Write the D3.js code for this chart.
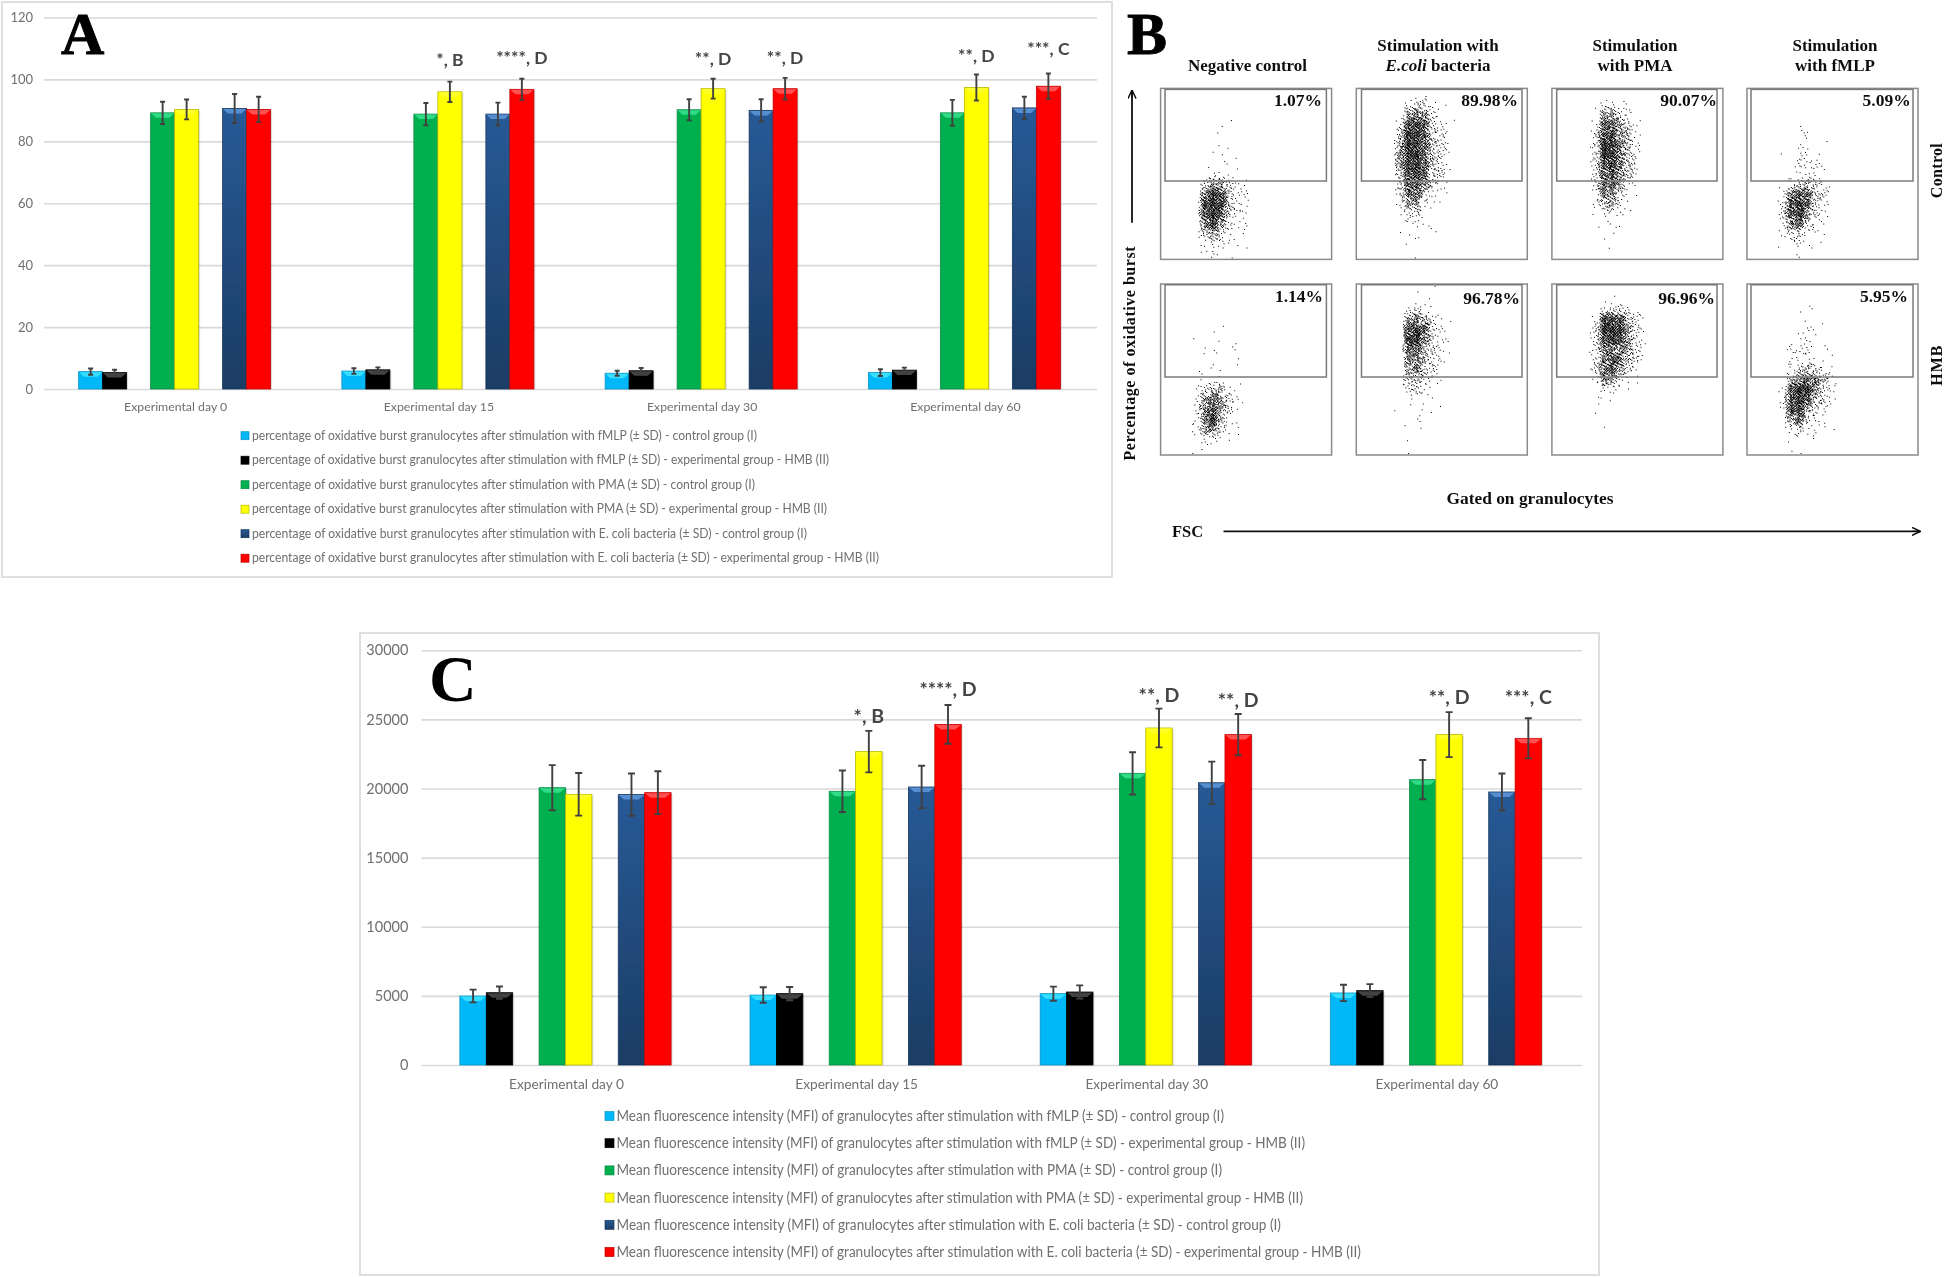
<!DOCTYPE html>
<html>
<head>
<meta charset="utf-8">
<script src="https://cdn.jsdelivr.net/npm/d3@7"></script>
<style>
html,body{margin:0;padding:0;background:#fff;}
svg{display:block;}
</style>
</head>
<body>
<svg id="chart" width="1946" height="1277"></svg>
<script>
/* ---------- DATA ---------- */
const days = ["Experimental day 0","Experimental day 15","Experimental day 30","Experimental day 60"];
const seriesKeys = ["fmlpControl","fmlpHmb","pmaControl","pmaHmb","ecoliControl","ecoliHmb"];

/* Panel A: percentage of oxidative burst */
const burstFmlpControl  = [5.6,5.8,5.1,5.3];
const burstFmlpHmb      = [5.3,6.2,5.9,6.1];
const burstPmaControl   = [89.2,88.8,90.2,89.2];
const burstPmaHmb       = [90.3,96.0,97.0,97.4];
const burstEcoliControl = [90.6,88.8,90.0,90.8];
const burstEcoliHmb     = [90.3,96.8,97.0,97.8];
const burstSdFmlpControl  = [1.0,0.9,0.8,1.1];
const burstSdFmlpHmb      = [0.9,0.8,0.9,0.8];
const burstSdPmaControl   = [3.6,3.6,3.4,4.2];
const burstSdPmaHmb       = [3.2,3.3,3.2,4.2];
const burstSdEcoliControl = [4.7,3.7,3.6,3.6];
const burstSdEcoliHmb     = [4.1,3.4,3.5,4.1];
const burstTicks = [0,20,40,60,80,100,120];
const burstLegend = [
 "percentage of oxidative burst granulocytes after stimulation with fMLP (± SD) - control group (I)",
 "percentage of oxidative burst granulocytes after stimulation with fMLP (± SD) - experimental group - HMB (II)",
 "percentage of oxidative burst granulocytes after stimulation with PMA (± SD) - control group (I)",
 "percentage of oxidative burst granulocytes after stimulation with PMA (± SD) - experimental group - HMB (II)",
 "percentage of oxidative burst granulocytes after stimulation with E. coli bacteria (± SD) - control group (I)",
 "percentage of oxidative burst granulocytes after stimulation with E. coli bacteria (± SD) - experimental group - HMB (II)"];
const burstSigLabels = ["*, B","****, D","**, D","**, D","**, D","***, C"];
const burstSigDay    = [1,1,2,2,3,3];
const burstSigSeries = [3,5,3,5,3,5];
const burstSigLevel  = [104.3,105,104.7,105,105.7,107.9];

/* Panel C: mean fluorescence intensity */
const mfiFmlpControl  = [4990,5060,5160,5210];
const mfiFmlpHmb      = [5230,5160,5280,5380];
const mfiPmaControl   = [20060,19800,21100,20640];
const mfiPmaHmb       = [19580,22670,24380,23900];
const mfiEcoliControl = [19560,20110,20420,19750];
const mfiEcoliHmb     = [19700,24640,23900,23630];
const mfiSdFmlpControl  = [460,560,510,590];
const mfiSdFmlpHmb      = [450,480,480,470];
const mfiSdPmaControl   = [1630,1500,1530,1420];
const mfiSdPmaHmb       = [1540,1500,1400,1630];
const mfiSdEcoliControl = [1530,1540,1530,1340];
const mfiSdEcoliHmb     = [1550,1400,1490,1450];
const mfiTicks = [0,5000,10000,15000,20000,25000,30000];
const mfiLegend = [
 "Mean fluorescence intensity (MFI) of granulocytes after stimulation with fMLP (± SD) - control group (I)",
 "Mean fluorescence intensity (MFI) of granulocytes after stimulation with fMLP (± SD) - experimental group - HMB (II)",
 "Mean fluorescence intensity (MFI) of granulocytes after stimulation with PMA (± SD) - control group (I)",
 "Mean fluorescence intensity (MFI) of granulocytes after stimulation with PMA (± SD) - experimental group - HMB (II)",
 "Mean fluorescence intensity (MFI) of granulocytes after stimulation with E. coli bacteria (± SD) - control group (I)",
 "Mean fluorescence intensity (MFI) of granulocytes after stimulation with E. coli bacteria (± SD) - experimental group - HMB (II)"];
const mfiSigLabels = ["*, B","****, D","**, D","**, D","**, D","***, C"];
const mfiSigDay    = [1,1,2,2,3,3];
const mfiSigSeries = [3,5,3,5,3,5];
const mfiSigLevel  = [24740,26695,26282,25920,26115,26115];

/* Panel B: flow-cytometry plots. The individual events cannot be read one by one,
   so each plot keeps the event density:
   17 rows x 12 columns, digit 0 (empty) to 9 (solid). Nothing here is random. */
const densityNegControl = ["000000000000","000000000000","000000000000","000000011000","000000010000","000000011000","000000110000","000000111100","000000211110","000003553210","000006984220","000008994220","000008983210","000006952220","000004532110","000002221110","000001211000"];
const densityEcoliControl = ["000000001000","000000233101","000000565311","000002897321","000004997331","000005997431","000006997431","000006997431","000004897331","000003886321","000003773211","000002552110","000001331000","000000121100","000001110100","000000110000","000000100000"];
const densityPmaControl = ["000000000000","000000221100","000001553200","000002775310","000003885420","000003996420","000003996420","000003896420","000003786410","000003775210","000002663110","000002452100","000001221100","000001111000","000000111000","000000010000","000000000000"];
const densityFmlpControl = ["000000000000","000000000000","000000000000","000000100000","000000120000","000000110100","000010221100","000001222100","000001222100","000002343200","000026874300","000038973200","000038953200","000026732100","000023321100","000011211100","000001100000"];
const densityNegHmb = ["000000000000","000000000000","000000000000","000000000000","000000110000","000010010100","000001111100","000001100100","000011110100","000011110000","000013442100","000025753200","000026853100","000026942100","000025631100","000012211100","000011000000"];
const densityEcoliHmb = ["000000010100","000000000100","000000232100","000000564311","000000897321","000000996321","000000774321","000000664320","000000564310","000000442210","000000332100","000000111100","000001111110","000000011000","000000110000","000000100000","000000100000"];
const densityPmaHmb = ["000000000000","000000110000","000000233210","000002898431","000003999531","000003898531","000003666530","000003687430","000003785310","000002652110","000001221110","000001110000","000001000000","000000000000","000000100000","000000000000","000000000000"];
const densityFmlpHmb = ["000000000000","000000000000","000000111000","000000010000","000000121100","000001121100","000002221100","000002221110","000002343210","000004676420","000018996320","000028984320","000028943210","000015732100","000012322110","000001110000","000001100000"];

const plotTitlesTop    = ["", "Stimulation with", "Stimulation", "Stimulation"];
const plotTitlesBottom = ["Negative control", "bacteria", "with PMA", "with fMLP"];
const gatePercentsControl = ["1.07%","89.98%","90.07%","5.09%"];
const gatePercentsHmb     = ["1.14%","96.78%","96.96%","5.95%"];

/* ---------- STYLE ---------- */
const barFill  = ["#00b8f7","#050505","#00b050","#ffff00","url(#navyGrad)","#ff0000"];
const barBevel = ["#3fe2ff","#4a4a4a","#35e08d","#ffff30","#5c93d8","#ff5a5a"];
const barEdge  = ["#0a93c6","#000000","#0b8a44","#b8b800","#16365c","#c40000"];
const barSlot  = [0,1,3,4,6,7];
const greyText = "#6f6f6f";
const serif = "'Liberation Serif','Times New Roman',serif";
const sans  = "Lato,'Open Sans',sans-serif";

const svg = d3.select("#chart");
const defs = svg.append("defs");
const blur = defs.append("filter").attr("id","soft").attr("x",0).attr("y",0).attr("width",1).attr("height",1)
  .attr("filterUnits","objectBoundingBox");
blur.append("feGaussianBlur").attr("stdDeviation",0.45);
const navy = defs.append("linearGradient").attr("id","navyGrad").attr("x1",0).attr("y1",0).attr("x2",0).attr("y2",1);
navy.append("stop").attr("offset",0).attr("stop-color","#285a96");
navy.append("stop").attr("offset",1).attr("stop-color","#1b3c64");

const root = svg.append("g").attr("filter","url(#soft)");
root.append("rect").attr("width",1946).attr("height",1277).attr("fill","#fff");

/* ---------- BAR PANELS ---------- */
function barPanel(o){
  const g = root.append("g");
  g.append("rect").attr("x",o.box[0]).attr("y",o.box[1]).attr("width",o.box[2]-o.box[0]).attr("height",o.box[3]-o.box[1])
    .attr("fill","#fff").attr("stroke","#dedede").attr("stroke-width",2);

  const y = d3.scaleLinear().domain([0,d3.max(o.ticks)]).range([o.y0,o.y1]);
  const x = d3.scaleBand().domain(days).range([o.x0,o.x1]);

  const yAxis = d3.axisLeft(y).tickValues(o.ticks).tickFormat(d3.format("d")).tickSize(-(o.x1-o.x0)).tickPadding(o.tickPad);
  const ya = g.append("g").attr("transform",`translate(${o.x0},0)`).call(yAxis);
  ya.select(".domain").remove();
  ya.selectAll("line").attr("stroke","#d9d9d9").attr("stroke-width",1.6);
  ya.selectAll("text").attr("fill",greyText).attr("font-family",sans).attr("font-size",o.tickFont);

  const xAxis = d3.axisBottom(x).tickSize(0).tickPadding(o.catPad);
  const xa = g.append("g").attr("transform",`translate(0,${o.y0})`).call(xAxis);
  xa.select(".domain").remove();
  xa.selectAll("text").attr("fill",greyText).attr("font-family",sans).attr("font-size",o.catFont);

  const barX = (dayName,s) => x(dayName)+x.bandwidth()/2-1+(barSlot[s]-4)*o.barW;

  o.means.forEach((vals,s)=>{
    const sg = g.append("g").attr("class","series-"+seriesKeys[s]);
    const rows = days.map((d,i)=>({day:d,v:vals[i],sd:o.sds[s][i]}));
    sg.selectAll("rect.shadow").data(rows).join("rect").attr("class","shadow")
      .attr("x",d=>barX(d.day,s)+1.5).attr("y",d=>y(d.v)+1).attr("width",o.barW).attr("height",d=>y(0)-y(d.v)-1)
      .attr("fill","#000").attr("opacity",0.13);
    sg.selectAll("rect.bar").data(rows).join("rect").attr("class","bar")
      .attr("x",d=>barX(d.day,s)).attr("y",d=>y(d.v)).attr("width",o.barW).attr("height",d=>y(0)-y(d.v))
      .attr("fill",barFill[s]).attr("stroke",barEdge[s]).attr("stroke-width",0.8);
  });
  o.means.forEach((vals,s)=>{
    const rows = days.map((d,i)=>({day:d,v:vals[i],sd:o.sds[s][i]}));
    const sg = g.append("g");
    sg.selectAll("path.bevel").data(rows).join("path").attr("class","bevel")
      .attr("d",d=>{
        const l=barX(d.day,s), t=y(d.v), w=o.barW, h=o.bevelH, p=d3.path();
        p.moveTo(l+0.5,t+0.5); p.lineTo(l+w-0.5,t+0.5); p.lineTo(l+w*0.78,t+h); p.lineTo(l+w*0.22,t+h); p.closePath();
        return p.toString();
      }).attr("fill",barBevel[s]).attr("opacity",0.9);
    sg.selectAll("path.err").data(rows).join("path").attr("class","err")
      .attr("d",d=>{
        const c=barX(d.day,s)+o.barW/2, hi=y(d.v+d.sd), lo=y(d.v-d.sd), k=o.cap/2, p=d3.path();
        p.moveTo(c,hi); p.lineTo(c,lo);
        p.moveTo(c-k,hi); p.lineTo(c+k,hi);
        p.moveTo(c-k,lo); p.lineTo(c+k,lo);
        return p.toString();
      }).attr("fill","none").attr("stroke","#404040").attr("stroke-width",1.9);
  });

  o.sigLabels.forEach((t,i)=>{
    g.append("text").text(t)
      .attr("x",barX(days[o.sigDay[i]],o.sigSeries[i])+o.barW/2)
      .attr("y",y(o.sigLevel[i]))
      .attr("text-anchor","middle").attr("font-family",sans).attr("font-weight",700)
      .attr("font-size",o.sigFont).attr("fill","#454545");
  });

  o.legend.forEach((t,i)=>{
    const cy = o.legY+i*o.legStep;
    g.append("rect").attr("x",o.legX).attr("y",cy-o.legM/2).attr("width",o.legM).attr("height",o.legM)
      .attr("fill",barFill[i]).attr("stroke",barEdge[i]).attr("stroke-width",0.7);
    g.append("text").text(t).attr("x",o.legTextX).attr("y",cy).attr("dy","0.34em")
      .attr("font-family",sans).attr("font-size",o.legFont).attr("fill",greyText)
      .attr("textLength",o.legEnd[i]-o.legTextX).attr("lengthAdjust","spacingAndGlyphs");
  });
}

barPanel({
  box:[2,2,1112,577], x0:44, x1:1097, y0:389, y1:17.5, ticks:burstTicks, barW:24, bevelH:5, cap:5,
  means:[burstFmlpControl,burstFmlpHmb,burstPmaControl,burstPmaHmb,burstEcoliControl,burstEcoliHmb],
  sds:[burstSdFmlpControl,burstSdFmlpHmb,burstSdPmaControl,burstSdPmaHmb,burstSdEcoliControl,burstSdEcoliHmb],
  sigLabels:burstSigLabels, sigDay:burstSigDay, sigSeries:burstSigSeries, sigLevel:burstSigLevel, sigFont:17.5,
  tickFont:13, tickPad:11, catFont:12.3, catPad:13,
  legend:burstLegend, legX:241, legTextX:252, legY:435.7, legStep:24.5, legM:8, legFont:12.5,
  legEnd:[757,829,755,827,807,879]
});
barPanel({
  box:[360,633,1599,1275], x0:421.4, x1:1582, y0:1065, y1:650.3, ticks:mfiTicks, barW:26.4, bevelH:5, cap:7,
  means:[mfiFmlpControl,mfiFmlpHmb,mfiPmaControl,mfiPmaHmb,mfiEcoliControl,mfiEcoliHmb],
  sds:[mfiSdFmlpControl,mfiSdFmlpHmb,mfiSdPmaControl,mfiSdPmaHmb,mfiSdEcoliControl,mfiSdEcoliHmb],
  sigLabels:mfiSigLabels, sigDay:mfiSigDay, sigSeries:mfiSigSeries, sigLevel:mfiSigLevel, sigFont:19.5,
  tickFont:14.5, tickPad:13, catFont:13.7, catPad:14,
  legend:mfiLegend, legX:605, legTextX:616.5, legY:1116, legStep:27.2, legM:9, legFont:14.5,
  legEnd:[1224,1305,1222,1303,1281,1361]
});

/* ---------- PANEL B ---------- */
const b = root.append("g").attr("class","panel-b");
const frameLeft = [1160.6,1356.3,1551.9,1747];
const frameTop  = [88.4,284];
const frameW = 171, frameH = 171;
const gateLeft  = [1165,1361.5,1556.7,1751];
const gateRight = [1326.4,1522,1717,1913];
const gateTop    = [89.4,284.8];
const gateBottom = [181,377];
const percentRight = [[1322,1518,1717,1910.7],[1323,1520,1715,1908]];
const percentBase  = [[105.7,105.7,105.7,105.7],[301.7,304.3,304.3,301.7]];
const densities = [
  [densityNegControl,densityEcoliControl,densityPmaControl,densityFmlpControl],
  [densityNegHmb,densityEcoliHmb,densityPmaHmb,densityFmlpHmb]];
const dotsPerCell = d3.scaleOrdinal().domain(d3.range(10)).range([0,1,4,10,18,28,40,55,75,110]);

densities.forEach((row,r)=>row.forEach((grid,c)=>{
  const gx = d3.scaleLinear().domain([0,12]).range([frameLeft[c],frameLeft[c]+96]);
  const gy = d3.scaleLinear().domain([0,17]).range([frameTop[r],frameTop[r]+170]);
  const p = d3.path();
  let n = 0;
  const frac = t => t-Math.floor(t);
  grid.forEach((line,ri)=>{
    line.split("").forEach((ch,ci)=>{
      const count = dotsPerCell(+ch);
      for(let k=0;k<count;k++){
        /* even low-discrepancy stipple around the cell, so neighbouring cells blend */
        n++;
        const du = 0.85*(frac(n*0.7548776662)+frac(n*0.4142135624)-1);
        const dv = 0.85*(frac(n*0.5698402910)+frac(n*0.7320508076)-1);
        const px = Math.min(frameLeft[c]+frameW-2,Math.max(frameLeft[c]+1,gx(ci+0.5+du)));
        const py = Math.min(frameTop[r]+frameH-2,Math.max(frameTop[r]+1,gy(ri+0.5+dv)));
        p.rect(px,py,1,1);
      }
    });
  });
  b.append("path").attr("d",p.toString()).attr("fill","#000");
  b.append("rect").attr("x",frameLeft[c]).attr("y",frameTop[r]).attr("width",frameW).attr("height",frameH)
    .attr("fill","none").attr("stroke","#8a8a8a").attr("stroke-width",1.5);
  b.append("rect").attr("x",gateLeft[c]).attr("y",gateTop[r]).attr("width",gateRight[c]-gateLeft[c]).attr("height",gateBottom[r]-gateTop[r])
    .attr("fill","none").attr("stroke","#7a7a7a").attr("stroke-width",1.5);
  b.append("text").text((r===0?gatePercentsControl:gatePercentsHmb)[c])
    .attr("x",percentRight[r][c]).attr("y",percentBase[r][c]).attr("text-anchor","end")
    .attr("font-family",serif).attr("font-weight",700).attr("font-size",17.5).attr("fill","#111");
}));

function serifText(t,x,y,size,anchor){
  return b.append("text").text(t).attr("x",x).attr("y",y).attr("text-anchor",anchor||"middle")
    .attr("font-family",serif).attr("font-weight",700).attr("font-size",size).attr("fill","#111");
}
const titleCentre = [1247.5,1438,1635,1835];
plotTitlesTop.forEach((t,i)=>{ if(t) serifText(t,titleCentre[i],50.5,17); });
plotTitlesBottom.forEach((t,i)=>{
  if(i===1){
    const tx = b.append("text").attr("x",titleCentre[i]).attr("y",71).attr("text-anchor","middle")
      .attr("font-family",serif).attr("font-weight",700).attr("font-size",17).attr("fill","#111");
    tx.append("tspan").attr("font-style","italic").text("E.coli");
    tx.append("tspan").text(" "+t);
  } else serifText(t,titleCentre[i],71,17);
});
serifText("Gated on granulocytes",1530,504,17.4);
serifText("FSC",1172,536.6,16.5,"start");

function rotText(t,x,y,size,len){
  const e = b.append("text").text(t).attr("transform",`translate(${x},${y}) rotate(-90)`).attr("text-anchor","middle")
    .attr("font-family",serif).attr("font-weight",700).attr("font-size",size).attr("fill","#111");
  if(len) e.attr("textLength",len).attr("lengthAdjust","spacing");
}
rotText("Percentage of oxidative burst",1135,353.5,16,214);
rotText("Control",1942,170.7,16,55);
rotText("HMB",1942,365.7,16,40);

defs.append("marker").attr("id","tip").attr("viewBox","0 0 10 10").attr("refX",9).attr("refY",5)
  .attr("markerWidth",5).attr("markerHeight",5).attr("orient","auto")
  .append("path").attr("d","M0,0.5 L9.5,5 L0,9.5 M9.5,5 L0,5").attr("fill","none").attr("stroke","#111").attr("stroke-width",1.6);
b.append("line").attr("x1",1132).attr("y1",222.7).attr("x2",1132).attr("y2",90.5).attr("stroke","#111").attr("stroke-width",1.8).attr("marker-end","url(#tip)");
b.append("line").attr("x1",1223.5).attr("y1",531.4).attr("x2",1920).attr("y2",531.4).attr("stroke","#111").attr("stroke-width",1.8).attr("marker-end","url(#tip)");

/* ---------- PANEL LETTERS ---------- */
function letter(t,x,y,size,extra){
  root.append("text").text(t).attr("x",x).attr("y",y).attr("font-family",serif).attr("font-weight",700)
    .attr("font-size",size).attr("fill","#000").attr("stroke","#000").attr("stroke-width",extra);
}
letter("A",61,54,60,0.9);
letter("B",1127,54,60,0.9);
letter("C",429,701,66,0);
</script>
</body>
</html>
